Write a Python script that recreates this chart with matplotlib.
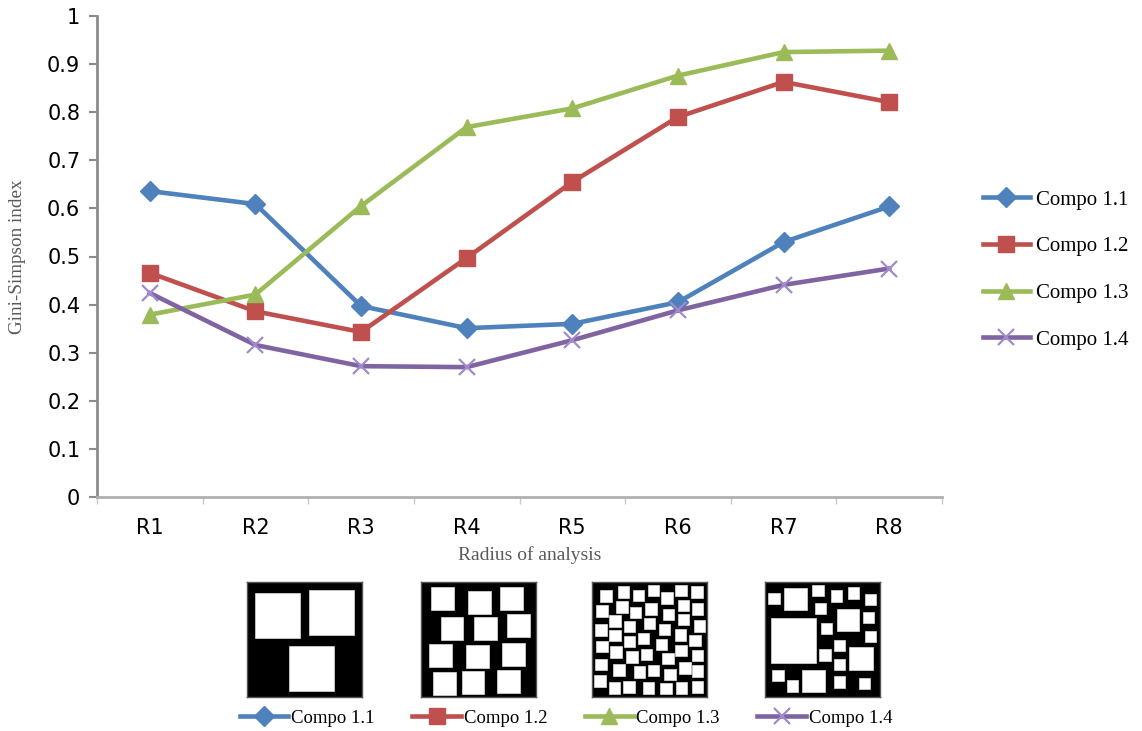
import matplotlib
matplotlib.use("Agg")
import matplotlib.pyplot as plt
from matplotlib.patches import Rectangle

# ---------------- data ----------------
categories = ["R1", "R2", "R3", "R4", "R5", "R6", "R7", "R8"]
series_names = ["Compo 1.1", "Compo 1.2", "Compo 1.3", "Compo 1.4"]
compo_1_1 = [0.636, 0.609, 0.397, 0.351, 0.360, 0.405, 0.530, 0.604]
compo_1_2 = [0.466, 0.386, 0.343, 0.497, 0.655, 0.790, 0.863, 0.821]
compo_1_3 = [0.379, 0.421, 0.605, 0.769, 0.808, 0.876, 0.925, 0.928]
compo_1_4 = [0.424, 0.316, 0.272, 0.270, 0.326, 0.388, 0.441, 0.475]
y_ticks = [0, 0.1, 0.2, 0.3, 0.4, 0.5, 0.6, 0.7, 0.8, 0.9, 1]
y_tick_labels = ["0", "0.1", "0.2", "0.3", "0.4", "0.5", "0.6", "0.7", "0.8", "0.9", "1"]

# pictograms: white squares (left, top, size) on a 0-100 black tile
picto_1 = [(6.7, 9.6, 39.5), (53.9, 6.7, 39.5), (36.4, 55.7, 39.5)]
picto_2 = [(8.8, 4.7, 19.9), (40.6, 7.6, 19.9), (68.7, 4.7, 19.9),
           (17.0, 30.6, 19.9), (46.2, 30.6, 19.9), (75.2, 28.0, 19.9),
           (7.3, 53.9, 19.9), (39.2, 54.8, 19.9), (70.8, 52.8, 19.9),
           (10.2, 78.4, 19.9), (35.3, 77.3, 19.9), (66.1, 76.4, 19.9)]
picto_3 = [(7.2, 7.2, 10), (22.6, 3.8, 10), (35.4, 6.7, 10), (48.4, 2.6, 10),
           (60.3, 8.7, 10), (72.5, 2.6, 10), (86.4, 3.5, 10),
           (3.5, 20.3, 10), (20.9, 16.8, 10), (32.8, 21.7, 10), (46.4, 18.3, 10),
           (61.7, 23.2, 10), (74.5, 15.4, 10), (86.9, 18.3, 10),
           (15.1, 29.0, 10), (27.5, 33.9, 10), (44.9, 31.0, 10), (58.0, 36.5, 10),
           (74.5, 27.5, 10), (88.4, 33.3, 10),
           (2.9, 36.8, 10), (15.1, 41.4, 10), (27.5, 46.7, 10), (40.0, 44.1, 10),
           (55.4, 49.3, 10), (71.9, 41.2, 10), (84.6, 45.8, 10),
           (3.8, 51.3, 10), (15.9, 55.9, 10), (29.9, 60.0, 10), (42.6, 58.0, 10),
           (60.9, 61.7, 10), (72.5, 54.5, 10), (86.9, 58.8, 10),
           (2.9, 66.7, 10), (18.3, 71.6, 10), (36.5, 73.3, 10), (48.4, 71.9, 10),
           (62.9, 75.4, 10), (75.9, 69.6, 10), (86.9, 72.5, 10),
           (2.0, 81.2, 10), (14.5, 87.0, 10), (27.0, 86.1, 10), (44.3, 87.0, 10),
           (59.4, 87.5, 10), (73.0, 87.0, 10), (86.9, 86.1, 10)]
picto_4 = [(2.9, 9.6, 9.9), (16.5, 4.9, 19.7), (41.2, 2.3, 10.1), (57.1, 7.2, 9.9),
           (71.9, 4.3, 10.1), (87.0, 10.1, 9.6), (43.5, 18.3, 9.9), (62.3, 23.2, 19.7),
           (84.9, 26.1, 9.6), (4.9, 31.0, 39.4), (48.4, 35.7, 9.9), (87.0, 42.6, 9.6),
           (60.0, 50.1, 9.9), (73.3, 56.5, 20.3), (47.2, 58.6, 9.9), (60.0, 66.7, 9.9),
           (6.4, 76.2, 9.9), (32.5, 76.2, 19.7), (18.8, 85.5, 9.9), (60.0, 82.0, 9.9),
           (81.7, 83.2, 9.9)]

# ---------------- styles ----------------
colors = ["#4F81BD", "#C0504D", "#9BBB59", "#8064A2"]
markers = ["D", "s", "^", "x"]
msizes = [10, 12, 11.5, 11]
tick_font = ["DejaVu Sans"]
serif = ["Liberation Serif", "DejaVu Serif"]
axis_gray = "#8C8C8C"

fig = plt.figure(figsize=(11.42, 7.31), dpi=100)
ax = fig.add_axes([97 / 1142, 1 - 497 / 731, 845 / 1142, 481 / 731])

values = [compo_1_1, compo_1_2, compo_1_3, compo_1_4]
x = list(range(len(categories)))
handles = []
for vals, c, m, ms, name in zip(values, colors, markers, msizes, series_names):
    kw = dict(color=c, lw=3.3, marker=m, markersize=ms, label=name,
              markerfacecolor=c, markeredgecolor=c)
    if m == "x":
        kw.update(markeredgewidth=1.6, markeredgecolor="#A08ACB")
    (ln,) = ax.plot(x, vals, **kw)
    handles.append(ln)

ax.set_xlim(-0.5, len(categories) - 0.5)
ax.set_ylim(0, 1)
ax.set_yticks(y_ticks)
ax.set_yticklabels(y_tick_labels, fontfamily=tick_font, fontsize=15)
ax.set_xticks(x)
ax.set_xticklabels(categories, fontfamily=tick_font, fontsize=15)
ax.set_xticks([i - 0.5 for i in range(len(categories) + 1)], minor=True)
ax.tick_params(axis="x", which="major", length=0, pad=15)
ax.tick_params(axis="x", which="minor", length=5, width=1, color="#C8C8C8", direction="out")
ax.tick_params(axis="y", which="major", length=6, width=1.5, color=axis_gray, direction="out", pad=6)
for s in ["top", "right"]:
    ax.spines[s].set_visible(False)
for s in ["left", "bottom"]:
    ax.spines[s].set_color(axis_gray)
    ax.spines[s].set_linewidth(2)
ax.spines["bottom"].set_color("#B0B0B0")

ax.set_xlabel("Radius of analysis", fontfamily=serif, fontsize=14, color="#5A5A5A")
ax.xaxis.set_label_coords(0.512, -0.121)
ax.xaxis.label.set_va("center")
ax.set_ylabel("Gini-Simpson index", fontfamily=serif, fontsize=13.8, color="#5A5A5A")
ax.yaxis.set_label_coords(-0.094, 0.5)
ax.yaxis.label.set_va("center")

# right legend
fig.legend(handles=handles, loc="center left", bbox_to_anchor=(983 / 1142, 1 - 270 / 731),
           frameon=False, prop={"family": serif, "size": 15}, handlelength=2.25,
           handletextpad=0.3, labelspacing=1.3, borderpad=0, borderaxespad=0)

# bottom legend
fig.legend(handles=handles, loc="center", bbox_to_anchor=(566 / 1142, 1 - 718 / 731),
           ncol=4, frameon=False, prop={"family": serif, "size": 13.5}, handlelength=2.6,
           handletextpad=0.15, columnspacing=2.0, borderpad=0, borderaxespad=0)

# pictograms
picto_lefts = [247, 421, 592, 765]
for left, sq in zip(picto_lefts, [picto_1, picto_2, picto_3, picto_4]):
    pax = fig.add_axes([left / 1142, 1 - 697 / 731, 115 / 1142, 115 / 731])
    pax.set_xlim(0, 100)
    pax.set_ylim(100, 0)
    pax.set_facecolor("black")
    pax.set_xticks([])
    pax.set_yticks([])
    for s in pax.spines.values():
        s.set_color("#555555")
        s.set_linewidth(1)
    for (l, t, size) in sq:
        pax.add_patch(Rectangle((l, t), size, size, facecolor="white",
                                edgecolor="#DDDDDD", lw=0.5))

fig.savefig("out.png", dpi=100)
